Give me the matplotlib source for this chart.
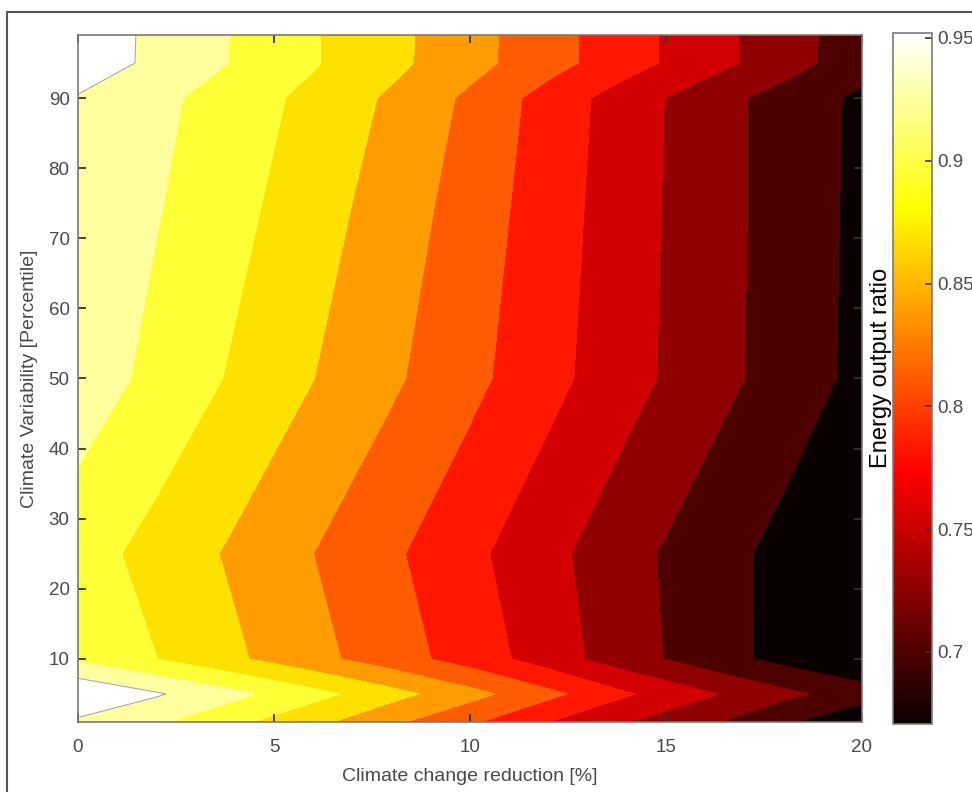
import matplotlib
matplotlib.use('Agg')
import matplotlib.pyplot as plt
from matplotlib import colors as mcolors, cm
from matplotlib.patches import Rectangle

plt.rcParams['font.family'] = ['Liberation Sans', 'DejaVu Sans']

# climate change reduction [%] (columns) and variability percentiles (rows)
reduction = [0, 2, 4, 6, 8, 10, 12, 14, 16, 18, 20]
percentile = [1, 5, 10, 25, 50, 75, 90, 95, 99]

# energy output ratio, one row per percentile
ratio = [
    [0.947, 0.928, 0.902, 0.875, 0.845, 0.816, 0.7835, 0.756, 0.732, 0.703, 0.674],
    [0.978, 0.955, 0.931, 0.905, 0.8775, 0.849, 0.819, 0.786, 0.759, 0.734, 0.712],
    [0.920, 0.896, 0.872, 0.848, 0.824, 0.799, 0.769, 0.739, 0.713, 0.690, 0.672],
    [0.908, 0.886, 0.863, 0.8396, 0.816, 0.790, 0.763, 0.736, 0.712, 0.690, 0.6715],
    [0.940, 0.916, 0.892, 0.868, 0.844, 0.819, 0.792, 0.765, 0.739, 0.715, 0.691],
    [0.947, 0.926, 0.904, 0.880, 0.855, 0.827, 0.797, 0.767, 0.740, 0.716, 0.692],
    [0.950, 0.931, 0.910, 0.888, 0.863, 0.834, 0.800, 0.769, 0.740, 0.716, 0.693],
    [0.968, 0.946, 0.922, 0.898, 0.875, 0.849, 0.822, 0.794, 0.767, 0.739, 0.711],
    [0.969, 0.946, 0.9225, 0.898, 0.875, 0.8495, 0.822, 0.794, 0.767, 0.739, 0.712],
]

levels = [0.6707, 0.6988, 0.7270, 0.7551, 0.7832, 0.8114, 0.8395, 0.8676, 0.8957, 0.9239, 0.9520]
cbar_ticks = [0.7, 0.75, 0.8, 0.85, 0.9, 0.95]
cbar_labels = ['0.7', '0.75', '0.8', '0.85', '0.9', '0.95']

txt = '#4a4a4a'

fig = plt.figure(figsize=(9.72, 7.92), dpi=100)
ax = fig.add_axes([0.0802, 0.0884, 0.8066, 0.8674])
cax = fig.add_axes([0.9187, 0.0859, 0.0401, 0.8725])

# matlab style: each band takes the colour of its lower level
norm = mcolors.Normalize(vmin=levels[0], vmax=levels[-1])
cmap = plt.get_cmap('hot')
fill_colors = [cmap(norm(v)) for v in levels]
ax.contourf(reduction, percentile, ratio, levels=levels + [1.0], colors=fill_colors)
ax.contour(reduction, percentile, ratio, levels=[levels[-1]], colors='#a0a0a0', linewidths=0.7)

ax.set_xlim(0, 20)
ax.set_ylim(1, 99)
ax.set_xticks([0, 5, 10, 15, 20])
ax.set_yticks(range(10, 100, 10))
ax.tick_params(direction='in', top=True, right=True, length=6, width=1.3,
               color='#333333', labelcolor=txt, labelsize=13.5)
ax.tick_params(axis='x', pad=12)
ax.tick_params(axis='y', pad=6)
for s in ax.spines.values():
    s.set_color('#7a7a7a')
    s.set_linewidth(1.2)
ax.set_xlabel('Climate change reduction [%]', fontsize=14, color=txt, labelpad=9)
ax.set_ylabel('Climate Variability [Percentile]', fontsize=14, color=txt, labelpad=8)

sm = cm.ScalarMappable(norm=norm, cmap=cmap)
cb = fig.colorbar(sm, cax=cax, ticks=cbar_ticks)
cb.ax.set_yticklabels(cbar_labels)
cb.outline.set_edgecolor('#7a7a7a')
cb.outline.set_linewidth(1.2)
cax.tick_params(direction='in', length=5, width=1.2, color='#333333',
                labelcolor=txt, labelsize=13.5, pad=4)

fig.text(0.906, 0.535, 'Energy output ratio', rotation=90, ha='center', va='center',
         fontsize=17, color='black')

fig.patches.append(Rectangle((7 / 972, -0.05), 1.2, 1 - 12 / 792 + 0.05,
                             transform=fig.transFigure, fill=False,
                             edgecolor='#555555', linewidth=1.5))

fig.savefig('out.png', dpi=100)
